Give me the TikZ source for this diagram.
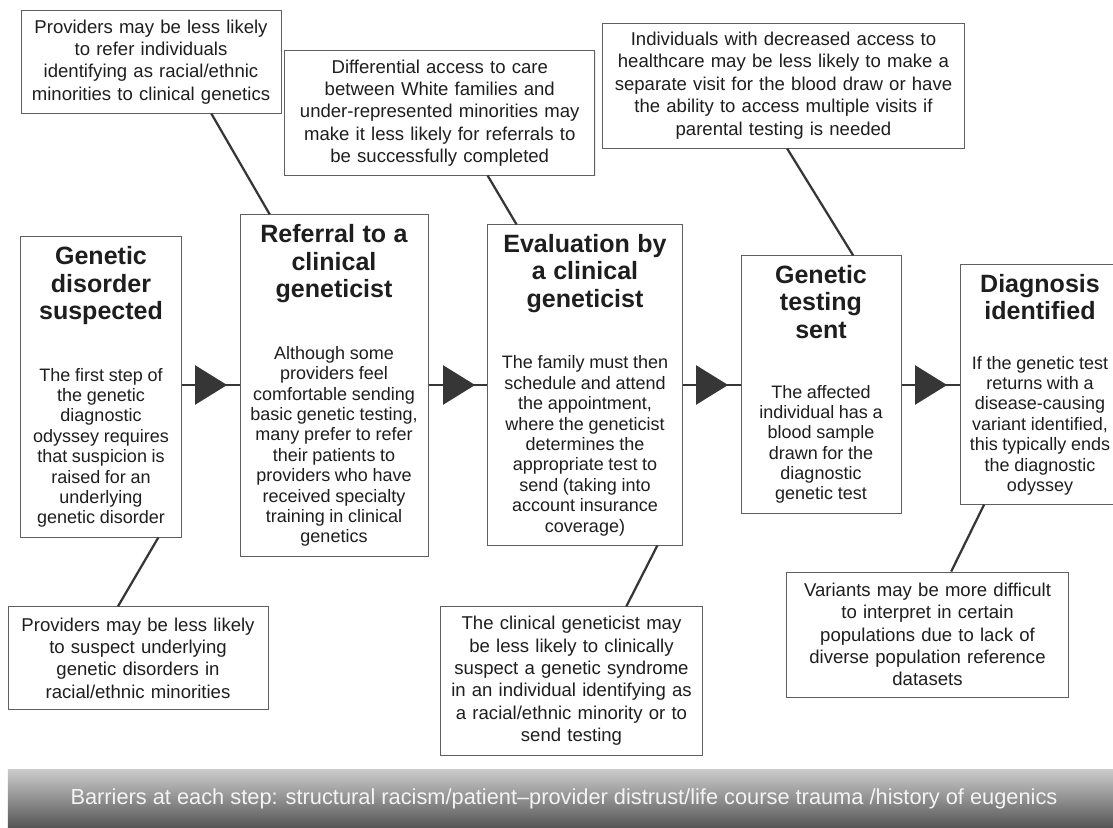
\documentclass[tikz,border=0pt]{standalone}
\usepackage{fontspec}
\setmainfont{Liberation Sans}
\usetikzlibrary{arrows.meta,calc,shadows}
\setlength{\parindent}{0pt}
\definecolor{txt}{HTML}{1E1E1E}
\definecolor{boxline}{HTML}{606060}
\definecolor{conn}{HTML}{363636}
\definecolor{bantop}{HTML}{CACACA}
\definecolor{banmid}{HTML}{ABABAB}
\definecolor{banbot}{HTML}{555555}
\definecolor{bantext}{HTML}{F4F4F4}
\newcommand\ttlfont{\fontsize{17.8}{19.6}\selectfont\bfseries\spaceskip=0.3em\relax}
\newcommand\bdyfont{\fontsize{12.8}{14.5}\selectfont}
\newcommand\barfont{\fontsize{13.2}{15.9}\selectfont}
\tikzset{
  stepbox/.style={draw=boxline, line width=0.7pt, fill=white, inner xsep=2pt, inner ysep=0pt,
    align=center, text=txt, drop shadow={shadow xshift=0.7pt, shadow yshift=-0.7pt, opacity=0.15}},
  barbox/.style={stepbox, font=\barfont},
  conline/.style={draw=conn, line width=1.6pt},
  flowline/.style={draw=conn, line width=1.9pt,
    postaction={draw=conn, -{Triangle[length=22.8pt,width=27.7pt]}, shorten >=8.8pt}},
  banner/.style={top color=bantop, middle color=banmid, bottom color=banbot, text=bantext,
    font=\fontsize{15.5}{18}\selectfont, inner sep=0pt},
}
\begin{document}
\begin{tikzpicture}[x=0.025cm, y=-0.025cm]
\useasboundingbox (0,0) rectangle (1113,828);

% step boxes
\node[stepbox, minimum width=113.8pt, minimum height=213.4pt, text width=109.8pt] (s1) at (101,387)
 {{\ttlfont Genetic\\disorder\\suspected\par}\vspace{29.3pt}{\bdyfont The first step of\\the genetic\\diagnostic\\odyssey requires\\that suspicion is\\raised for an\\underlying\\genetic disorder\par}};
\node[stepbox, minimum width=133.7pt, minimum height=242.6pt, text width=129.7pt] (s2) at (334,385.5)
 {{\ttlfont Referral to a\\clinical\\geneticist\par}\vspace{29.3pt}{\bdyfont Although some\\providers feel\\comfortable sending\\basic genetic testing,\\many prefer to refer\\their patients to\\providers who have\\received specialty\\training in clinical\\genetics\par}};
\node[stepbox, minimum width=138pt, minimum height=227.6pt, text width=134pt] (s3) at (585,385)
 {{\ttlfont Evaluation by\\a clinical\\geneticist\par}\vspace{29.3pt}{\bdyfont The family must then\\schedule and attend\\the appointment,\\where the geneticist\\determines the\\appropriate test to\\send (taking into\\account insurance\\coverage)\par}};
\node[stepbox, minimum width=113.8pt, minimum height=182.8pt, text width=109.8pt] (s4) at (821,384.5)
 {{\ttlfont Genetic\\testing\\sent\par}\vspace{27.8pt}{\bdyfont The affected\\individual has a\\blood sample\\drawn for the\\diagnostic\\genetic test\par}};
\node[stepbox, minimum width=113.8pt, minimum height=170pt, text width=109.8pt] (s5) at (1040,384.5)
 {{\ttlfont Diagnosis\\identified\par}\vspace{20.7pt}{\bdyfont If the genetic test\\returns with a\\disease-causing\\variant identified,\\this typically ends\\the diagnostic\\odyssey\par}};

% barrier boxes
\node[barbox, minimum width=184.9pt, minimum height=72.6pt, text width=180.9pt] (b1) at (151,62)
 {Providers may be less likely\\to refer individuals\\identifying as racial/ethnic\\minorities to clinical genetics};
\node[barbox, minimum width=220.2pt, minimum height=88.2pt, text width=216.2pt] (b2) at (439.75,113)
 {Differential access to care\\between White families and\\under-represented minorities may\\make it less likely for referrals to\\be successfully completed};
\node[barbox, minimum width=256.8pt, minimum height=88.9pt, text width=252.8pt] (b3) at (783.5,85.5)
 {Individuals with decreased access to\\healthcare may be less likely to make a\\separate visit for the blood draw or have\\the ability to access multiple visits if\\parental testing is needed};
\node[barbox, minimum width=184.9pt, minimum height=72.6pt, text width=180.9pt] (c1) at (138,658)
 {Providers may be less likely\\to suspect underlying\\genetic disorders in\\racial/ethnic minorities};
\node[barbox, minimum width=185.7pt, minimum height=105.3pt, text width=181.7pt] (c3) at (571.5,681)
 {The clinical geneticist may\\be less likely to clinically\\suspect a genetic syndrome\\in an individual identifying as\\a racial/ethnic minority or to\\send testing};
\node[barbox, minimum width=199.9pt, minimum height=88.9pt, text width=195.9pt] (c5) at (927.5,634.5)
 {Variants may be more difficult\\to interpret in certain\\populations due to lack of\\diverse population reference\\datasets};

% banner
\node[banner, minimum width=791pt, minimum height=41.3pt] (ban) at (564,799)
 {Barriers at each step: structural racism/patient–provider distrust/life course trauma /history of eugenics};

% flow arrows
\coordinate (ay) at (0,385);
\draw[flowline] (s1.east |- ay) -- (s2.west |- ay);
\draw[flowline] (s2.east |- ay) -- (s3.west |- ay);
\draw[flowline] (s3.east |- ay) -- (s4.west |- ay);
\draw[flowline] (s4.east |- ay) -- (s5.west |- ay);

% barrier connectors
\draw[conline] ($(b1.south west)!0.731!(b1.south east)$) -- ($(s2.north west)!0.160!(s2.north east)$);
\draw[conline] ($(b2.south west)!0.654!(b2.south east)$) -- ($(s3.north west)!0.149!(s3.north east)$);
\draw[conline] ($(b3.south west)!0.510!(b3.south east)$) -- ($(s4.north west)!0.700!(s4.north east)$);
\draw[conline] ($(s1.south west)!0.856!(s1.south east)$) -- ($(c1.north west)!0.423!(c1.north east)$);
\draw[conline] ($(s3.south west)!0.871!(s3.south east)$) -- ($(c3.north west)!0.709!(c3.north east)$);
\draw[conline] ($(s5.south west)!0.153!(s5.south east)$) -- ($(c5.north west)!0.584!(c5.north east)$);
\end{tikzpicture}
\end{document}
